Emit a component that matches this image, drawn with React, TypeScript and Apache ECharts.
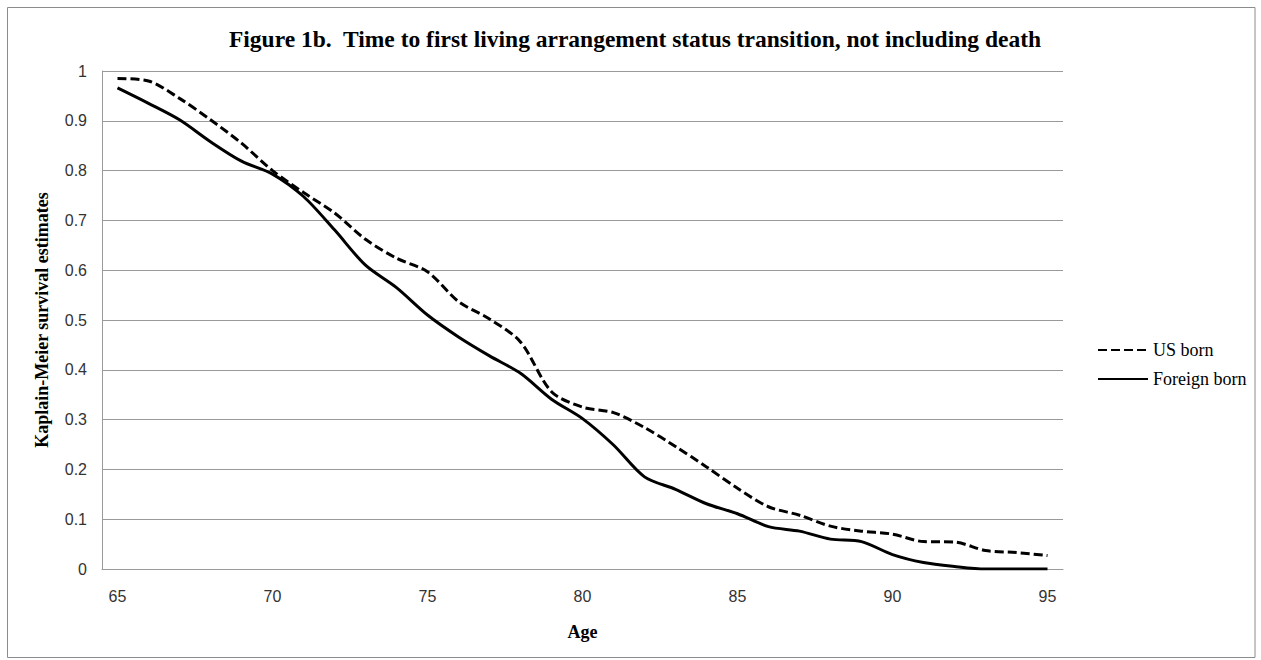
import React, { useEffect, useRef } from "react";
import * as echarts from "echarts";

const ages: string[] = [
  "65", "66", "67", "68", "69", "70", "71", "72", "73", "74", "75",
  "76", "77", "78", "79", "80", "81", "82", "83", "84", "85",
  "86", "87", "88", "89", "90", "91", "92", "93", "94", "95",
];

const usBorn: number[] = [
  0.985, 0.98, 0.945, 0.902, 0.855, 0.8, 0.756, 0.715, 0.662, 0.624, 0.597,
  0.537, 0.502, 0.456, 0.356, 0.325, 0.314, 0.284, 0.246, 0.205, 0.162,
  0.125, 0.108, 0.086, 0.076, 0.07, 0.055, 0.054, 0.037, 0.033, 0.027,
];

const foreignBorn: number[] = [
  0.966, 0.935, 0.902, 0.858, 0.819, 0.793, 0.748, 0.681, 0.61, 0.565, 0.51,
  0.466, 0.428, 0.393, 0.341, 0.302, 0.249, 0.185, 0.16, 0.131, 0.111,
  0.085, 0.076, 0.06, 0.055, 0.029, 0.013, 0.005, 0.0, 0.0, 0.0,
];

const seriesNames: string[] = ["US born", "Foreign born"];
const titleText =
  "Figure 1b.  Time to first living arrangement status transition, not including death";
const xName = "Age";
const yName = "Kaplain-Meier survival estimates";

export default function App() {
  const ref = useRef<HTMLDivElement>(null);

  useEffect(() => {
    if (!ref.current) return;
    const chart = echarts.init(ref.current, null, { renderer: "svg" });
    const serif = "'Liberation Serif', 'Times New Roman', serif";
    const sans = "'Liberation Sans', Arial, sans-serif";
    chart.setOption({
      animation: false,
      backgroundColor: "#ffffff",
      title: {
        text: titleText,
        left: 630,
        textAlign: "center",
        top: 22,
        textStyle: {
          fontFamily: serif,
          fontWeight: "bold",
          fontSize: 23.5,
          color: "#000",
        },
      },
      graphic: [
        {
          type: "rect",
          shape: { x: 7.5, y: 7.5, width: 1247.5, height: 650 },
          style: { fill: "none", stroke: "#8c8c8c", lineWidth: 1 },
          silent: true,
        },
      ],
      legend: {
        orient: "vertical",
        left: 1092,
        top: 335,
        itemWidth: 50,
        itemHeight: 12,
        itemGap: 9,
        itemTextGap: 3,
        itemStyle: { color: "transparent", borderWidth: 0, opacity: 0 },
        textStyle: {
          fontFamily: serif,
          fontSize: 18,
          lineHeight: 20,
          color: "#000",
        },
        data: seriesNames,
      },
      grid: {
        left: 102,
        right: 198,
        top: 71,
        bottom: 91,
        containLabel: false,
      },
      xAxis: {
        type: "category",
        data: ages,
        boundaryGap: true,
        name: xName,
        nameLocation: "middle",
        nameGap: 54,
        nameTextStyle: {
          fontFamily: serif,
          fontWeight: "bold",
          fontSize: 18,
          color: "#000",
        },
        axisLine: { show: true, lineStyle: { color: "#9a9a9a", width: 1 } },
        axisTick: { show: false },
        axisLabel: {
          interval: 4,
          margin: 19,
          fontFamily: sans,
          fontSize: 16,
          color: "#333",
        },
        splitLine: { show: false },
      },
      yAxis: {
        type: "value",
        min: 0,
        max: 1,
        interval: 0.1,
        name: yName,
        nameLocation: "middle",
        nameRotate: 90,
        nameGap: 51,
        nameTextStyle: {
          fontFamily: serif,
          fontWeight: "bold",
          fontSize: 18,
          color: "#000",
        },
        axisLine: { show: true, lineStyle: { color: "#9a9a9a", width: 1 } },
        axisTick: { show: false },
        axisLabel: {
          margin: 15,
          fontFamily: sans,
          fontSize: 16,
          color: "#333",
        },
        splitLine: { show: true, lineStyle: { color: "#9a9a9a", width: 1 } },
      },
      series: [
        {
          name: seriesNames[0],
          type: "line",
          data: usBorn,
          smooth: 0.3,
          symbol: "none",
          lineStyle: { color: "#000", width: 3, type: [9, 4] },
          itemStyle: { color: "#000" },
        },
        {
          name: seriesNames[1],
          type: "line",
          data: foreignBorn,
          smooth: 0.3,
          symbol: "none",
          lineStyle: { color: "#000", width: 3, type: "solid" },
          itemStyle: { color: "#000" },
        },
      ],
    });
    return () => chart.dispose();
  }, []);

  return (
    <div
      ref={ref}
      style={{ position: "absolute", left: 0, top: 0, width: 1261, height: 660 }}
    />
  );
}
